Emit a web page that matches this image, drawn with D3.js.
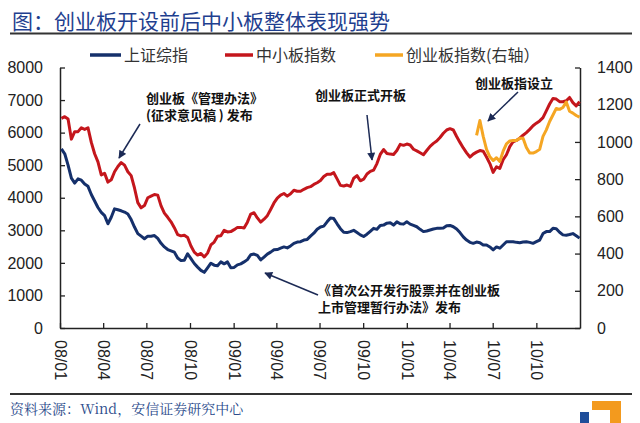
<!DOCTYPE html>
<html><head><meta charset="utf-8">
<script src="https://cdn.jsdelivr.net/npm/d3@7"></script>
<style>body{margin:0;background:#fff} svg{display:block}</style>
</head><body>
<svg id="c" width="640" height="423"></svg>
<script>
// ---------------- data ----------------
const titleText = "图：创业板开设前后中小板整体表现强势";
const sourceText = "资料来源：Wind，安信证券研究中心";
const seriesNames = ["上证综指", "中小板指数", "创业板指数(右轴）"];
const firstWeek = "2008-01-04";      // weekly (Friday) observations
const gemFirstWeek = "2010-05-28";
const tickLabels = ["08/01","08/04","08/07","08/10","09/01","09/04","09/07","09/10","10/01","10/04","10/07","10/10"];
const leftTicks = [0,1000,2000,3000,4000,5000,6000,7000,8000];
const rightTicks = [0,200,400,600,800,1000,1200,1400];

const shValues = [
5500,5350,5000,4600,4450,4580,4540,4420,4350,4100,
3900,3700,3550,3450,3200,3400,3660,3630,3600,3560,
3500,3330,3100,2900,2820,2740,2820,2820,2840,2750,
2600,2490,2410,2370,2330,2150,2070,2080,2280,2130,
1980,1870,1770,1710,1850,1990,1930,1910,2030,1970,
2030,1850,1860,1940,1970,2030,2100,2250,2270,2230,
2090,2180,2270,2330,2400,2410,2450,2490,2460,2520,
2600,2640,2650,2700,2720,2820,2910,3030,3100,3130,
3260,3380,3360,3200,3050,2940,2930,2960,3000,2930,
2860,2810,2880,2970,3060,3030,3150,3160,3220,3230,
3160,3260,3200,3190,3260,3190,3150,3110,3030,2960,
2980,3010,3040,3060,3060,3070,3140,3150,3110,3040,
2930,2800,2700,2630,2600,2640,2620,2550,2550,2490,
2400,2490,2450,2550,2650,2650,2650,2630,2620,2640,
2650,2630,2600,2650,2700,2900,2960,2960,3060,3050,
2940,2860,2850,2870,2900,2830,2760];

const smeValues = [
6440,6490,6420,5800,6030,6030,6150,6100,6150,5700,
5350,5100,4700,4750,4480,4550,4800,4960,5080,5000,
4800,4680,4300,3850,3690,3760,4000,4050,4100,4080,
3750,3530,3400,3260,3080,2870,2830,2850,2780,2520,
2330,2240,2290,2180,2300,2550,2640,2820,2830,3000,
2950,2960,3020,3090,3090,3070,3250,3500,3540,3380,
3250,3340,3450,3640,3840,3990,4080,4130,4050,4120,
4230,4200,4200,4260,4310,4340,4410,4460,4530,4650,
4720,4720,4770,4580,4380,4360,4390,4350,4600,4680,
4520,4570,4730,4810,4850,5050,5330,5480,5360,5340,
5330,5450,5640,5610,5650,5620,5490,5440,5380,5320,
5450,5580,5670,5740,5850,5980,6080,6120,6080,5880,
5700,5530,5380,5250,5340,5400,5450,5430,5250,5050,
4780,4950,4900,5170,5320,5570,5720,5760,5830,5920,
6000,6100,6210,6290,6360,6460,6670,6880,7050,7030,
6950,6950,6980,7080,6920,6820,6950];

const gemValues = [
1035,1115,1030,960,920,900,915,895,950,990,
1005,1008,1008,1020,1020,970,940,940,948,960,
1030,1065,1110,1145,1180,1175,1185,1214,1165,1155,
1142,1133];

const annotations = [
  {lines:["创业板《管理办法》","(征求意见稿 ) 发布"], at:[146,98]},
  {lines:["创业板正式开板"], at:[315,95]},
  {lines:["创业板指设立"], at:[475,83]},
  {lines:["《首次公开发行股票并在创业板","上市管理暂行办法》发布"], at:[318,290]}
];

// ---------------- chart ----------------
const svg = d3.select("#c");
const parse = d3.utcParse("%Y-%m-%d");
const parseTick = d3.utcParse("%y/%m");
const colors = {sh:"#15306b", sme:"#c4161c", gem:"#f5a623", axis:"#222"};
const cjk = "'Noto Sans CJK SC','Noto Sans',sans-serif";
const latin = "'Liberation Sans',Arial,sans-serif";

const x = d3.scaleUtc().domain([parseTick("08/01"), parseTick("11/01")]).range([60, 580]);
const yL = d3.scaleLinear().domain([0, 8000]).range([328, 67.5]);
const yR = d3.scaleLinear().domain([0, 1400]).range([328, 67.5]);

const t0 = parse(firstWeek), g0 = parse(gemFirstWeek);
const sh = shValues.map((v,i)=>({date:d3.utcDay.offset(t0,7*i), v}));
const sme = smeValues.map((v,i)=>({date:d3.utcDay.offset(t0,7*i), v}));
const gem = gemValues.map((v,i)=>({date:d3.utcDay.offset(g0,7*i), v}));

// title
svg.append("text").attr("x",12).attr("y",29).text(titleText)
  .attr("font-family",cjk).attr("font-size",21).attr("fill","#1f3f8f");
svg.append("line").attr("x1",10).attr("x2",632).attr("y1",33.5).attr("y2",33.5)
  .attr("stroke","#333").attr("stroke-width",2.2);

// axes
function styleAxis(g){
  g.select(".domain").attr("stroke",colors.axis).attr("stroke-width",1.5);
  g.selectAll(".tick line").attr("stroke",colors.axis).attr("stroke-width",1.3);
  g.selectAll("text").attr("fill","#222").attr("font-family",latin).attr("font-size",16);
}
svg.append("g").attr("transform","translate(60,0)")
  .call(d3.axisLeft(yL).tickValues(leftTicks).tickSize(-5).tickSizeOuter(0).tickPadding(17).tickFormat(d3.format("d")))
  .call(styleAxis);
svg.append("g").attr("transform","translate(580,0)")
  .call(d3.axisRight(yR).tickValues(rightTicks).tickSize(-5).tickSizeOuter(0).tickPadding(17).tickFormat(d3.format("d")))
  .call(styleAxis);
const xa = svg.append("g").attr("transform","translate(0,328)")
  .call(d3.axisBottom(x).tickValues(tickLabels.map(parseTick)).tickSize(-5).tickSizeOuter(0).tickFormat(d3.utcFormat("%y/%m")))
  .call(styleAxis);
xa.selectAll("text").attr("transform","rotate(90)").attr("x",12).attr("y",0).attr("dy","0.35em").style("text-anchor","start");

// lines
const lineL = d3.line().x(d=>x(d.date)).y(d=>yL(d.v)).curve(d3.curveLinear);
const lineR = d3.line().x(d=>x(d.date)).y(d=>yR(d.v)).curve(d3.curveLinear);
svg.append("path").datum(sh).attr("d",lineL).attr("fill","none").attr("stroke",colors.sh).attr("stroke-width",3).attr("stroke-linejoin","round");
svg.append("path").datum(sme).attr("d",lineL).attr("fill","none").attr("stroke",colors.sme).attr("stroke-width",3).attr("stroke-linejoin","round");
svg.append("path").datum(gem).attr("d",lineR).attr("fill","none").attr("stroke",colors.gem).attr("stroke-width",3).attr("stroke-linejoin","round");

// legend
const legendX = [[90,121,124],[225,253,256],[375,403,406]];
const legendC = [colors.sh, colors.sme, colors.gem];
seriesNames.forEach((n,i)=>{
  const [a,b,t] = legendX[i];
  svg.append("line").attr("x1",a).attr("x2",b).attr("y1",55).attr("y2",55).attr("stroke",legendC[i]).attr("stroke-width",3.5);
  svg.append("text").attr("x",t).attr("y",55).attr("dy","0.35em").text(n)
    .attr("font-family",cjk).attr("font-size",16).attr("fill","#333");
});

// annotations
const defs = svg.append("defs");
defs.append("marker").attr("id","ah").attr("viewBox","0 0 10 10").attr("refX",9).attr("refY",5)
  .attr("markerWidth",9).attr("markerHeight",8).attr("markerUnits","userSpaceOnUse").attr("orient","auto")
  .append("path").attr("d","M0,0L10,5L0,10Z").attr("fill","#1c2a55");
const arrowFrom = [[140,124],[367,115],[518,92],[318,295]];
const arrowTo = [[119,158],[372,160],[488,121],[265,273]];
annotations.forEach((a,i)=>{
  a.lines.forEach((l,k)=>svg.append("text").attr("font-family",cjk).attr("font-size",13).attr("font-weight","bold").attr("fill","#111")
    .attr("x",a.at[0]).attr("y",a.at[1]+k*17.5).attr("dy","0.35em").text(l));
  svg.append("line").attr("x1",arrowFrom[i][0]).attr("y1",arrowFrom[i][1]).attr("x2",arrowTo[i][0]).attr("y2",arrowTo[i][1])
    .attr("stroke","#1c2a55").attr("stroke-width",1.5).attr("marker-end","url(#ah)");
});

// footer
svg.append("line").attr("x1",10).attr("x2",632).attr("y1",394).attr("y2",394).attr("stroke","#333").attr("stroke-width",2);
svg.append("text").attr("x",10).attr("y",414).text(sourceText)
  .attr("font-family","'Noto Serif CJK SC','DejaVu Serif',"+cjk).attr("font-size",14).attr("fill","#2a4a8a");
// logo
svg.append("rect").attr("x",580).attr("y",412).attr("width",9).attr("height",11).attr("fill","#1f4e9a");
svg.append("path").attr("d","M592,401H621V423H610V410H592Z").attr("fill","#f39a1e");
</script>
</body></html>
